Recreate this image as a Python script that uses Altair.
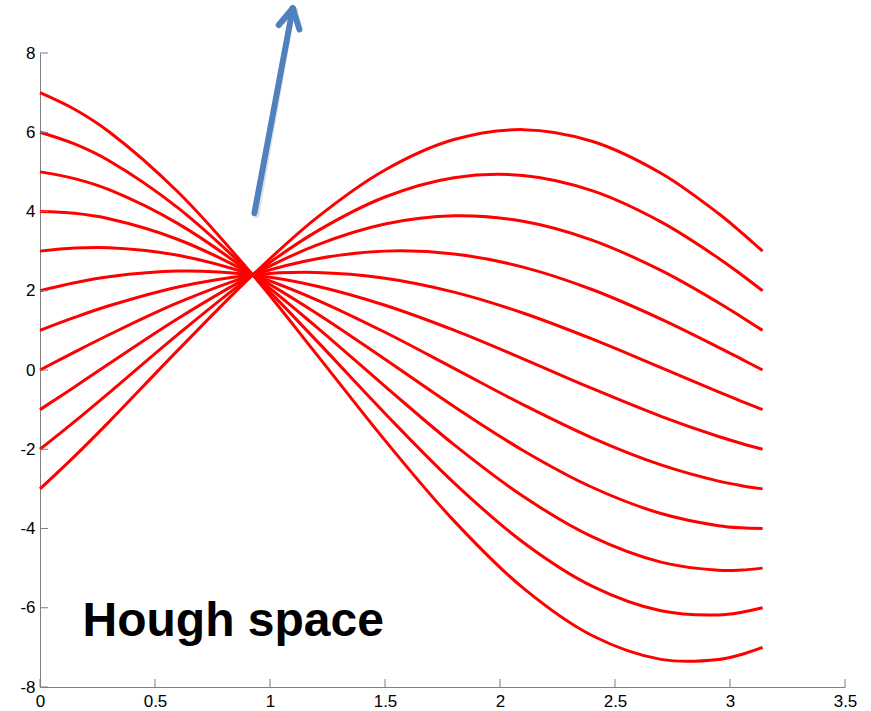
import altair as alt
import pandas as pd

# Sample angles (radians) at which each sinusoid in Hough space was read
theta = [0, 0.15, 0.3, 0.6, 0.925, 1.2, 1.5, 1.8, 2.1, 2.4, 2.7, 2.95, 3.05, 3.1416]

# rho values of each curve, keyed by its value at theta = 0
rho_curves = {
    "7":  [7.0, 6.581, 6.014, 4.491, 2.40, 0.414, -1.777, -3.808, -5.500, -6.701, -7.303, -7.306, -7.179, -7.0],
    "6":  [6.0, 5.705, 5.282, 4.092, 2.40, 0.754, -1.096, -2.847, -4.345, -5.453, -6.076, -6.180, -6.114, -6.0],
    "5":  [5.0, 4.829, 4.550, 3.693, 2.40, 1.096, -0.412, -1.884, -3.187, -4.206, -4.849, -5.055, -5.049, -5.0],
    "4":  [4.0, 3.953, 3.817, 3.294, 2.40, 1.438, 0.270, -0.922, -2.030, -2.959, -3.622, -3.929, -3.984, -4.0],
    "3":  [3.0, 3.077, 3.085, 2.895, 2.40, 1.779, 0.952, 0.041, -0.873, -1.711, -2.395, -2.804, -2.919, -3.0],
    "2":  [2.0, 2.202, 2.353, 2.496, 2.40, 2.120, 1.634, 1.004, 0.282, -0.464, -1.168, -1.678, -1.855, -2.0],
    "1":  [1.0, 1.326, 1.620, 2.096, 2.40, 2.461, 2.317, 1.966, 1.439, 0.784, 0.058, -0.553, -0.790, -1.0],
    "0":  [0.0, 0.450, 0.889, 1.698, 2.40, 2.803, 3.000, 2.929, 2.597, 2.032, 1.286, 0.573, 0.275, 0.0],
    "-1": [-1.0, -0.427, 0.157, 1.300, 2.40, 3.145, 3.683, 3.891, 3.753, 3.279, 2.512, 1.698, 1.340, 1.0],
    "-2": [-2.0, -1.303, -0.576, 0.900, 2.40, 3.486, 4.366, 4.854, 4.910, 4.527, 3.739, 2.823, 2.405, 2.0],
    "-3": [-3.0, -2.178, -1.308, 0.501, 2.40, 3.827, 5.048, 5.817, 6.066, 5.774, 4.966, 3.949, 3.469, 3.0],
}

x_ticks = [0, 0.5, 1, 1.5, 2, 2.5, 3, 3.5]
y_ticks = [-8, -6, -4, -2, 0, 2, 4, 6, 8]

# Annotation arrow (shaft and the two arms of its head), in data units
arrow_x = [0.932, 1.099, 1.099]
arrow_y = [3.955, 9.128, 9.128]
arrow_x2 = [1.099, 1.038, 1.128]
arrow_y2 = [9.128, 8.707, 8.598]

label_text = ["Hough space"]
label_x = [0.185]
label_y = [-6.72]

AXIS_GREY = "#7f7f7f"
FONT = "Liberation Sans"

rows = []
for name, vals in rho_curves.items():
    for t, r in zip(theta, vals):
        rows.append({"curve": name, "theta": t, "rho": r})
curves_df = pd.DataFrame(rows)

x_scale = alt.Scale(domain=[0, 3.5], nice=False, zero=False)
y_scale = alt.Scale(domain=[-8, 8], nice=False, zero=False)

x_axis = alt.Axis(
    values=x_ticks, labelExpr="datum.value + ''", tickSize=0, labelPadding=6,
    domainColor=AXIS_GREY, grid=False, labelFont=FONT, labelFontSize=17,
    labelColor="black", title=None, labelFlush=False, labelOverlap=False,
)
y_axis = alt.Axis(
    values=y_ticks, labelExpr="datum.value + ''", tickSize=0, labelPadding=5,
    domainColor=AXIS_GREY, grid=False, labelFont=FONT, labelFontSize=17,
    labelColor="black", title=None, labelFlush=False, labelOverlap=False,
)

lines = alt.Chart(curves_df).mark_line(
    color="#ff0000", strokeWidth=3, interpolate="catmull-rom"
).encode(
    x=alt.X("theta:Q", scale=x_scale, axis=x_axis),
    y=alt.Y("rho:Q", scale=y_scale, axis=y_axis),
    detail="curve:N",
)

# Inward-pointing tick marks along both axes
xt = alt.Chart(pd.DataFrame({"theta": x_ticks})).mark_rule(
    color=AXIS_GREY, strokeWidth=1
).encode(
    x=alt.X("theta:Q", scale=x_scale, axis=x_axis),
    y=alt.value(634), y2=alt.value(626),
)
yt = alt.Chart(pd.DataFrame({"rho": y_ticks})).mark_rule(
    color=AXIS_GREY, strokeWidth=1
).encode(
    y=alt.Y("rho:Q", scale=y_scale, axis=y_axis),
    x=alt.value(0), x2=alt.value(8),
)

arrow_df = pd.DataFrame({"theta": arrow_x, "rho": arrow_y, "theta2": arrow_x2, "rho2": arrow_y2})
arrow_base = alt.Chart(arrow_df).encode(
    x=alt.X("theta:Q", scale=x_scale, axis=x_axis),
    y=alt.Y("rho:Q", scale=y_scale, axis=y_axis),
    x2="theta2:Q", y2="rho2:Q",
)
arrow_shadow = arrow_base.mark_rule(
    color="#000000", opacity=0.12, strokeWidth=6, strokeCap="round", xOffset=2, yOffset=2
)
arrow = arrow_base.mark_rule(color="#4f81bd", strokeWidth=6, strokeCap="round")

label = alt.Chart(pd.DataFrame({"theta": label_x, "rho": label_y, "t": label_text})).mark_text(
    align="left", baseline="alphabetic", font=FONT, fontWeight="bold", fontSize=48, color="black"
).encode(
    x=alt.X("theta:Q", scale=x_scale, axis=x_axis),
    y=alt.Y("rho:Q", scale=y_scale, axis=y_axis),
    text="t:N",
)

chart = alt.layer(lines, xt, yt, arrow_shadow, arrow, label).properties(
    width=805, height=634,
    padding={"left": 40, "top": 53, "right": 26, "bottom": 24},
    autosize=alt.AutoSizeParams(type="none"),
    background="white",
).configure_view(stroke=None)

chart.save("out.html", embed_options={"renderer": "svg", "actions": False})
